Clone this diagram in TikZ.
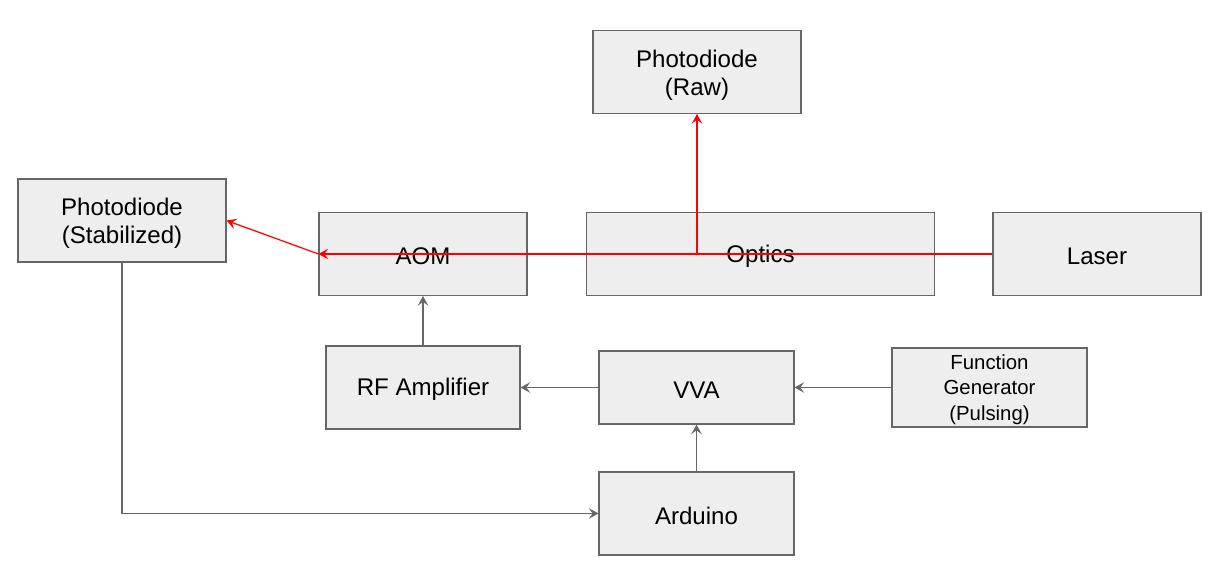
\documentclass[tikz,border=0pt]{standalone}
\usepackage{fontspec}
\setmainfont{Liberation Sans}
\usepackage{tikz}
\usetikzlibrary{arrows.meta}

\definecolor{boxgray}{HTML}{EEEEEE}
\definecolor{linegray}{HTML}{666666}
\definecolor{beamred}{HTML}{FF0000}

\begin{document}
\begin{tikzpicture}[x=0.02cm, y=-0.02cm,
    box/.style={draw=linegray, fill=boxgray, line width=0.6pt, align=center,
        inner sep=0pt, minimum width=4.16cm, minimum height=1.66cm,
        font=\fontsize{13.7}{15.8}\selectfont,
        execute at begin node={\rule{0pt}{0.9em}}},
    multi/.style={execute at begin node={\rule{0pt}{#1}}},
    sig/.style={draw=linegray, line width=0.7pt,
        -{Stealth[length=5.5pt,width=6pt,inset=2.2pt]}},
    beam/.style={draw=beamred, line width=0.7pt,
        -{Stealth[length=5.5pt,width=6pt,inset=2.2pt]}}]
    \useasboundingbox (0,0) rectangle (1232,578);

    % Optical path
    \node[box, multi=29.2pt] (pdraw) at (697,72) {Photodiode\\(Raw)};
    \node[box, multi=29.2pt] (pdstab) at (122,220.5) {Photodiode\\(Stabilized)};
    \node[box] (aom) at (423,254) {AOM};
    \node[box, minimum width=6.98cm] (optics) at (760.5,254) {Optics};
    \node[box] (laser) at (1097,254) {Laser};

    % Electronics
    \node[box, minimum width=3.88cm] (rfamp) at (423,387.5) {RF Amplifier};
    \node[box, minimum width=3.9cm, minimum height=1.46cm] (vva) at (696.5,387.5) {VVA};
    \node[box, multi=39.9pt, minimum width=3.9cm, minimum height=1.58cm,
        font=\fontsize{11.6}{14.6}\selectfont] (fgen) at (989.5,387.5)
        {Function\\Generator\\(Pulsing)};
    \node[box, minimum width=3.9cm] (arduino) at (696.5,513.5) {Arduino};

    % Beam
    \coordinate (split) at (pdraw.south |- aom.west);
    \draw[beam] (laser.west) -- (aom.west);
    \draw[beam] (aom.west) -- (pdstab.east);
    \draw[beam] (split) -- (pdraw.south);

    % Signals
    \draw[sig] (rfamp.north) -- (aom.south);
    \draw[sig] (vva.west) -- (rfamp.east);
    \draw[sig] (fgen.west) -- (vva.east);
    \draw[sig] (arduino.north) -- (vva.south);
    \draw[sig] (pdstab.south) |- (arduino.west);
\end{tikzpicture}
\end{document}
